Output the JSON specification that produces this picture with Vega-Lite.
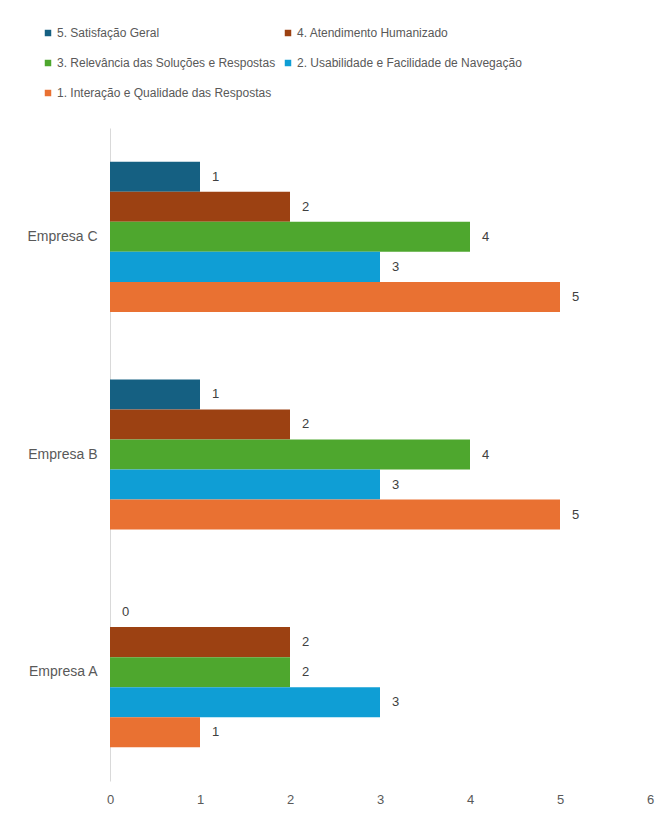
{
  "$schema": "https://vega.github.io/schema/vega-lite/v6.json",
  "width": 540,
  "height": 653,
  "autosize": {"type": "none"},
  "padding": {"left": 110, "top": 128, "right": 9, "bottom": 35},
  "background": "white",
  "config": {
    "view": {"stroke": null},
    "font": "Liberation Sans, sans-serif"
  },
  "data": {
    "values": [
      {"empresa": "Empresa C", "criterio": "5. Satisfação Geral", "valor": 1},
      {"empresa": "Empresa C", "criterio": "4. Atendimento Humanizado", "valor": 2},
      {"empresa": "Empresa C", "criterio": "3. Relevância das Soluções e Respostas", "valor": 4},
      {"empresa": "Empresa C", "criterio": "2. Usabilidade e Facilidade de Navegação", "valor": 3},
      {"empresa": "Empresa C", "criterio": "1. Interação e Qualidade das Respostas", "valor": 5},
      {"empresa": "Empresa B", "criterio": "5. Satisfação Geral", "valor": 1},
      {"empresa": "Empresa B", "criterio": "4. Atendimento Humanizado", "valor": 2},
      {"empresa": "Empresa B", "criterio": "3. Relevância das Soluções e Respostas", "valor": 4},
      {"empresa": "Empresa B", "criterio": "2. Usabilidade e Facilidade de Navegação", "valor": 3},
      {"empresa": "Empresa B", "criterio": "1. Interação e Qualidade das Respostas", "valor": 5},
      {"empresa": "Empresa A", "criterio": "5. Satisfação Geral", "valor": 0},
      {"empresa": "Empresa A", "criterio": "4. Atendimento Humanizado", "valor": 2},
      {"empresa": "Empresa A", "criterio": "3. Relevância das Soluções e Respostas", "valor": 2},
      {"empresa": "Empresa A", "criterio": "2. Usabilidade e Facilidade de Navegação", "valor": 3},
      {"empresa": "Empresa A", "criterio": "1. Interação e Qualidade das Respostas", "valor": 1}
    ]
  },
  "encoding": {
    "y": {
      "field": "empresa",
      "type": "nominal",
      "sort": ["Empresa C", "Empresa B", "Empresa A"],
      "scale": {"paddingInner": 0.31, "paddingOuter": 0.155},
      "axis": {
        "title": null,
        "ticks": false,
        "domainColor": "#d9d9d9",
        "labelColor": "#595959",
        "labelFontSize": 14,
        "labelPadding": 13
      }
    },
    "yOffset": {
      "field": "criterio",
      "type": "nominal",
      "sort": [
        "5. Satisfação Geral",
        "4. Atendimento Humanizado",
        "3. Relevância das Soluções e Respostas",
        "2. Usabilidade e Facilidade de Navegação",
        "1. Interação e Qualidade das Respostas"
      ],
      "scale": {"paddingInner": 0, "paddingOuter": 0}
    },
    "x": {
      "field": "valor",
      "type": "quantitative",
      "scale": {"domain": [0, 6], "nice": false},
      "axis": {
        "title": null,
        "domain": false,
        "ticks": false,
        "grid": false,
        "values": [0, 1, 2, 3, 4, 5, 6],
        "labelOverlap": false,
        "labelFlush": false,
        "labelColor": "#595959",
        "labelFontSize": 13,
        "labelPadding": 12
      }
    }
  },
  "layer": [
    {
      "mark": {"type": "bar"},
      "encoding": {
        "color": {
          "field": "criterio",
          "type": "nominal",
          "scale": {
            "domain": [
              "5. Satisfação Geral",
              "4. Atendimento Humanizado",
              "3. Relevância das Soluções e Respostas",
              "2. Usabilidade e Facilidade de Navegação",
              "1. Interação e Qualidade das Respostas"
            ],
            "range": ["#156082", "#9C4112", "#4EA72E", "#0F9ED5", "#E97132"]
          },
          "legend": {
            "title": null,
            "orient": "none",
            "direction": "horizontal",
            "legendX": -68,
            "legendY": -101,
            "columns": 2,
            "columnPadding": 6,
            "rowPadding": 18,
            "symbolType": "square",
            "symbolSize": 42,
            "symbolStrokeWidth": 0,
            "labelOffset": 3,
            "labelFontSize": 12,
            "labelColor": "#595959",
            "labelLimit": 400
          }
        }
      }
    },
    {
      "mark": {"type": "text", "align": "left", "dx": 12, "fontSize": 13, "color": "#404040"},
      "encoding": {
        "text": {"field": "valor", "type": "quantitative"}
      }
    }
  ]
}
